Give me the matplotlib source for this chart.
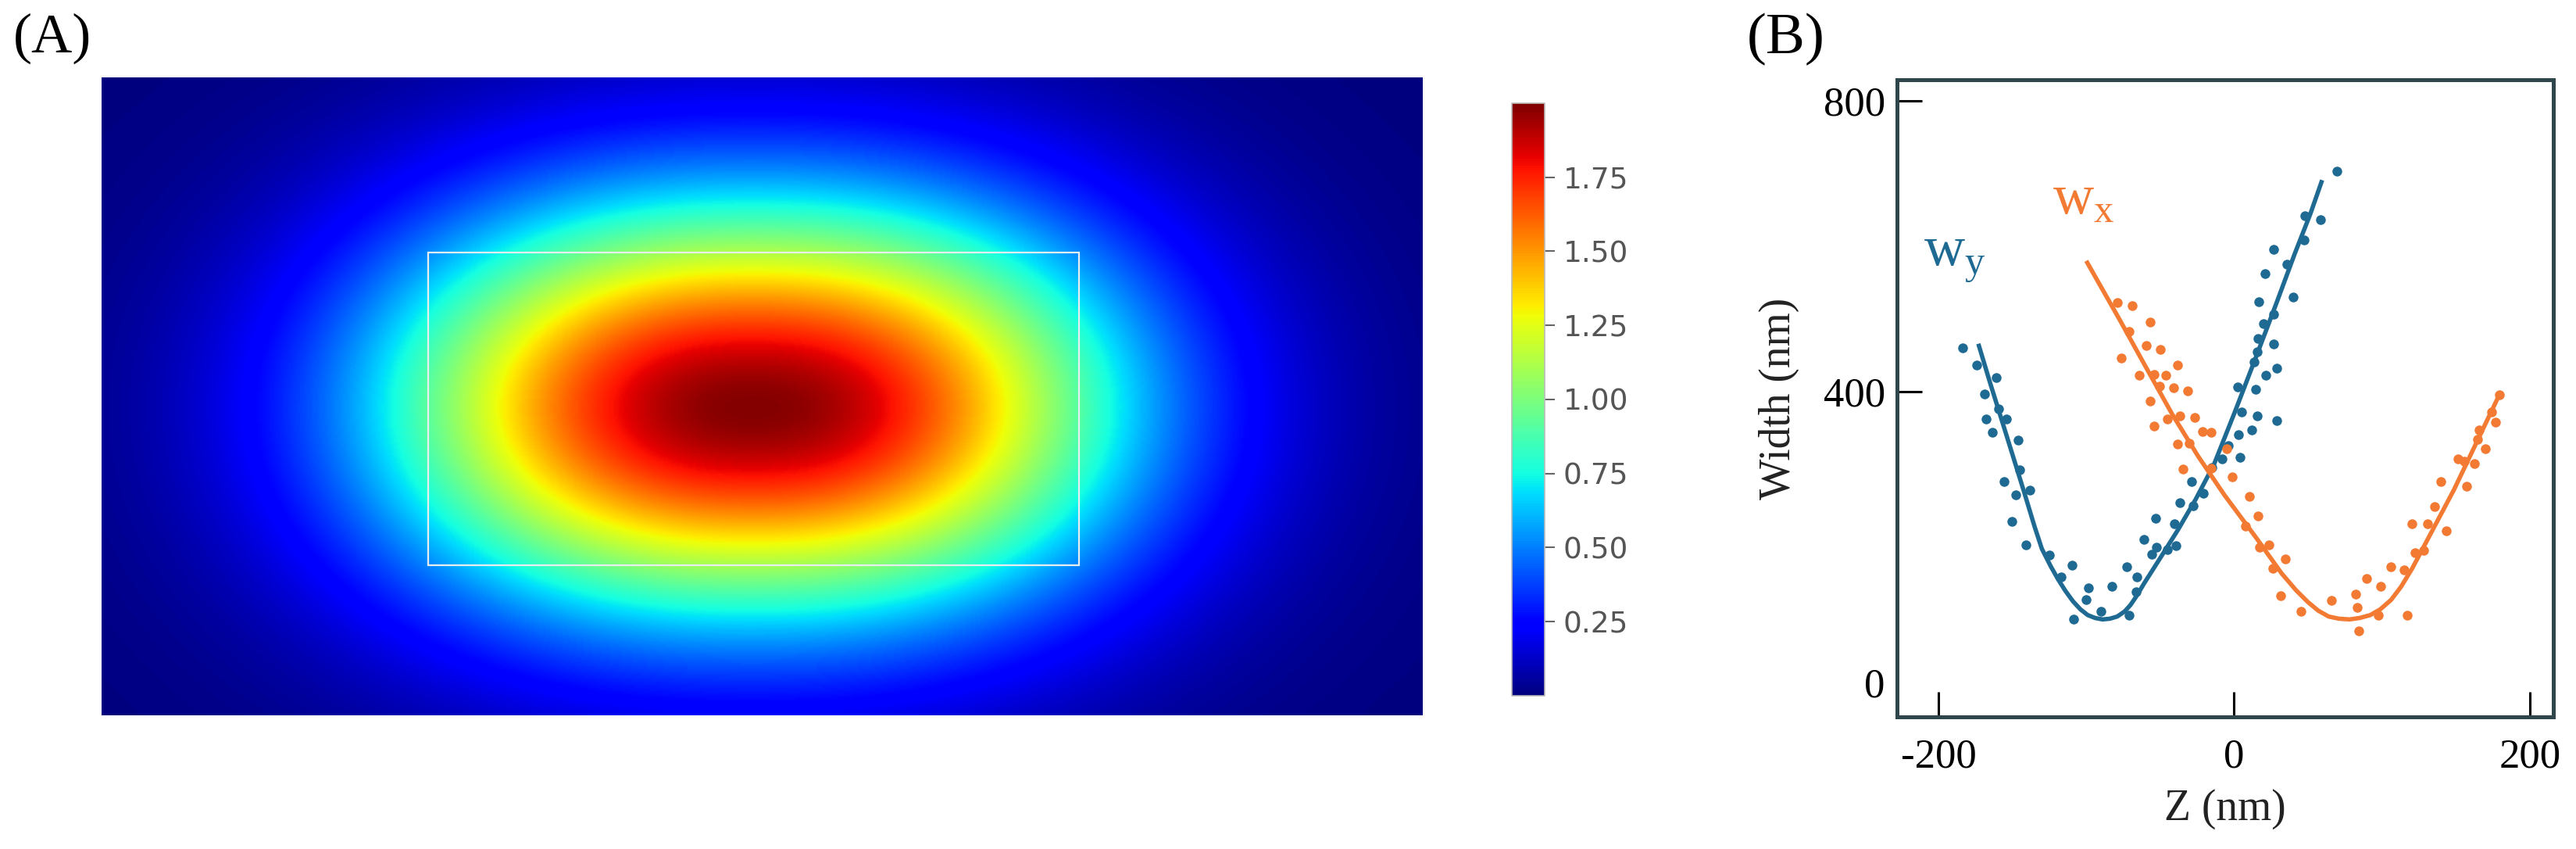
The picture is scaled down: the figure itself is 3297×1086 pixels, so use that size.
"""Panel (A): simulated intensity map with ROI box; panel (B): astigmatic width vs z calibration."""

import numpy as np
import matplotlib
matplotlib.use('Agg')
import matplotlib.pyplot as plt
from matplotlib.patches import Rectangle

plt.rcParams['font.family'] = ['Liberation Serif', 'DejaVu Serif']
plt.rcParams['mathtext.fontset'] = 'custom'
plt.rcParams['mathtext.rm'] = 'Liberation Serif'
plt.rcParams['axes.unicode_minus'] = False

# --- Panel A: field parameters (arbitrary units) ---
FIELD_PEAK = 1.99
FIELD_CENTER = (-0.06, -0.07)
FIELD_SCALE = (2.2, 1.245)
FIELD_POWER = (2.3, 2.0)
FIELD_EXTENT = (-4.0, 4.0, -1.93, 1.93)
ROI_X = (-2.02, 1.92)
ROI_Y = (-1.02, 0.87)
CBAR_TICKS = [0.25, 0.50, 0.75, 1.00, 1.25, 1.50, 1.75]

# --- Panel B: measured widths (nm) ---
wy_z = [-183.8, -174.1, -160.8, -168.8, -159.1, -167.9, -153.8, -163.5, -145.9, -145.0,
        -155.6, -137.9, -147.6, -150.3, -140.6, -124.7, -109.7, -116.8, -98.3, -100.0,
        -108.8, -90.3, -82.4, -70.9, -72.6, -65.6, -66.5, -61.2, -53.3, -55.9,
        -52.4, -45.3, -39.2, -40.1, -36.5, -27.7, -28.6, -20.6, -15.0, -8.3,
        -3.9, 4.1, 3.2, 12.0, 28.7, 15.5, 4.9, 2.3, 14.7, 21.7,
        28.7, 13.8, 15.5, 27.0, 16.4, 19.9, 27.0, 16.8, 40.2, 35.8,
        20.8, 27.0, 47.3, 48.1, 58.7, 69.7]
wy_w = [460, 437, 419, 397, 376, 363, 362, 344, 333, 293,
        276, 265, 258, 222, 190, 175, 161, 145, 130, 114,
        87, 98, 132, 93, 159, 145, 125, 197, 226, 177,
        186, 183, 188, 218, 247, 243, 276, 260, 296, 308,
        326, 310, 341, 347, 360, 367, 372, 407, 403, 423,
        432, 441, 455, 466, 473, 494, 507, 524, 530, 575,
        562, 596, 609, 642, 637, 703]

wx_z = [-78.8, -69.1, -56.8, -70.9, -59.4, -49.7, -76.2, -38.3, -63.9, -54.1,
        -46.2, -40.9, -31.2, -56.8, -50.6, -45.3, -36.5, -26.8, -54.1, -21.5,
        -15.3, -38.3, -30.3, -4.8, -34.8, -15.3, -1.2, 10.2, 16.4, 7.6,
        17.3, 23.4, 26.1, 34.9, 31.4, 45.5, 65.8, 82.5, 83.4, 84.3,
        89.6, 99.3, 97.5, 116.9, 106.3, 115.2, 122.2, 128.4, 120.5, 131.1,
        143.4, 135.4, 139.8, 157.5, 151.3, 162.8, 169.8, 164.6, 155.7, 166.0,
        174.0, 176.9, 179.5]
wx_w = [523, 518, 496, 483, 464, 458, 446, 437, 423, 424,
        423, 405, 401, 387, 408, 363, 367, 365, 353, 345,
        344, 328, 329, 322, 294, 295, 283, 256, 229, 215,
        186, 190, 157, 170, 120, 98, 113, 122, 104, 71,
        143, 132, 93, 93, 159, 155, 179, 182, 218, 218,
        209, 242, 276, 270, 308, 301, 322, 335, 304, 348,
        372, 358, 396]

# fitted curves
wy_fit_z = [-173.0, -165.0, -155.0, -142.0, -135.0, -130.0, -124.0, -119.0, -114.0, -109.0,
            -104.0, -99.0, -94.0, -89.0, -84.0, -79.0, -74.0, -70.0, -66.0, -61.0,
            -51.0, -38.0, -26.0, -13.6, 0.5, 14.7, 28.7, 41.1, 51.7, 59.6]
wy_fit_w = [466, 412, 347, 262, 215, 184, 160, 142, 126, 112,
            101, 93, 89, 87, 88, 91, 98, 107, 119, 136,
            168, 210, 252, 300, 372, 447, 522, 590, 645, 691]
wx_fit_z = [-100.0, -77.1, -59.4, -41.8, -24.2, -6.5, 14.7, 32.3, 42.0, 49.9,
            57.0, 64.0, 71.0, 78.1, 85.0, 92.2, 99.0, 106.3, 113.0, 120.5,
            134.6, 148.7, 162.8, 179.5]
wx_fit_w = [580, 498, 433, 369, 311, 258, 200, 150, 127, 111,
            99, 91, 88, 87, 89, 93, 101, 114, 132, 157,
            211, 265, 325, 396]

BLUE = '#1f6a93'
ORANGE = '#f37a33'
SPINE = '#2e464c'

fig = plt.figure(figsize=(32.98, 10.86), dpi=100)

# --- Panel A ---
axA = fig.add_axes([0.0394, 0.1575, 0.5127, 0.7514])
x0, x1, y0, y1 = FIELD_EXTENT
xx, yy = np.meshgrid(np.linspace(x0, x1, 800), np.linspace(y0, y1, 400))
field = FIELD_PEAK * np.exp(-np.abs((xx - FIELD_CENTER[0]) / FIELD_SCALE[0]) ** FIELD_POWER[0]
                            - np.abs((yy - FIELD_CENTER[1]) / FIELD_SCALE[1]) ** FIELD_POWER[1])
im = axA.imshow(field, cmap='jet', vmin=0, vmax=2.0, extent=FIELD_EXTENT,
                origin='lower', aspect='auto', interpolation='bilinear')
axA.add_patch(Rectangle((ROI_X[0], ROI_Y[0]), ROI_X[1] - ROI_X[0], ROI_Y[1] - ROI_Y[0],
                        fill=False, ec='#e8eef0', lw=1.6))
axA.axis('off')

cax = fig.add_axes([0.5867, 0.1805, 0.01274, 0.698])
cb = fig.colorbar(im, cax=cax, ticks=CBAR_TICKS)
cb.ax.set_yticklabels([f'{t:.2f}' for t in CBAR_TICKS], family='DejaVu Sans',
                      fontsize=27, color='#555555')
cb.ax.tick_params(length=9, width=1.5, color='#666666', pad=8)
cb.outline.set_edgecolor('#bbbbbb')
cb.outline.set_linewidth(1.2)

fig.text(0.005, 0.985, '(A)', fontsize=52, va='top', ha='left')
fig.text(0.678, 0.985, '(B)', fontsize=54, va='top', ha='left')

# --- Panel B ---
axB = fig.add_axes([0.7362, 0.1556, 0.2547, 0.7505])
axB.plot(wy_fit_z, wy_fit_w, '-', color=BLUE, lw=4, solid_capstyle='butt')
axB.plot(wx_fit_z, wx_fit_w, '-', color=ORANGE, lw=4, solid_capstyle='butt')
axB.plot(wy_z, wy_w, 'o', color=BLUE, ms=9, mew=0)
axB.plot(wx_z, wx_w, 'o', color=ORANGE, ms=9, mew=0)

axB.text(-210, 573, r'w$_\mathregular{y}$', color=BLUE, fontsize=52, ha='left', va='baseline')
axB.text(-123, 645, r'w$_\mathregular{x}$', color=ORANGE, fontsize=52, ha='left', va='baseline')

axB.set_xlim(-228, 216)
axB.set_ylim(-47, 829)
axB.set_xticks([-200, 0, 200])
axB.set_yticks([0, 400, 800])
axB.tick_params(direction='in', length=23, width=2.2, labelsize=38, color='black')
axB.tick_params(axis='x', pad=20)
axB.tick_params(axis='y', pad=11)
axB.yaxis.get_major_ticks()[0].tick1line.set_visible(False)
for s in axB.spines.values():
    s.set_color(SPINE)
    s.set_linewidth(3.6)
axB.set_xlabel('Z (nm)', fontsize=40, labelpad=12, color='#222222')
axB.set_ylabel('Width (nm)', fontsize=40, labelpad=22, color='#222222')

fig.savefig('out.png', dpi=100)
